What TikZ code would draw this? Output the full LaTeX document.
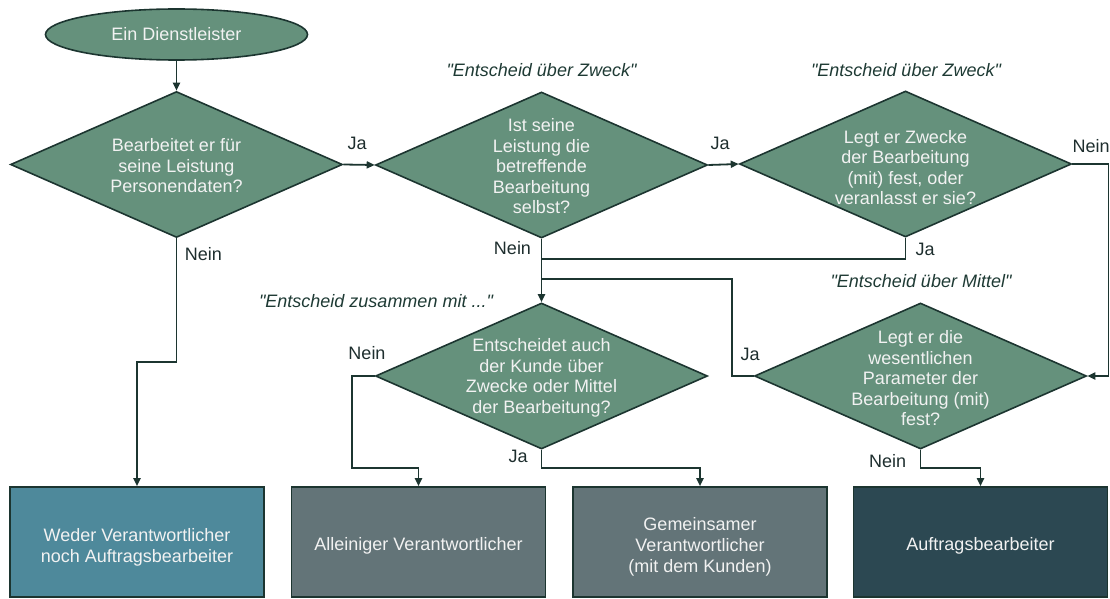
\documentclass[tikz,border=0pt]{standalone}
\usepackage{fontspec}
\setmainfont{Liberation Sans}[Ligatures=TeXOff]
\usetikzlibrary{shapes.geometric,arrows.meta}
\definecolor{dfill}{RGB}{101,145,124}
\definecolor{edge}{RGB}{28,53,48}
\definecolor{bteal}{RGB}{78,137,155}
\definecolor{bgrey}{RGB}{99,116,120}
\definecolor{bdark}{RGB}{44,72,82}
\definecolor{lbltxt}{RGB}{30,46,46}
\definecolor{ittxt}{RGB}{30,58,52}
\definecolor{wtxt}{RGB}{242,242,242}
\tikzset{
  conn/.style={draw=edge, line width=1.8pt},
  arr/.style={conn, -{Triangle[length=8pt,width=7pt]}},
  dia/.style={diamond, draw=edge, line width=1.6pt, fill=dfill, minimum width=332pt, minimum height=146pt, inner sep=0pt},
  dtext/.style={text=wtxt, align=center, inner sep=0pt, font=\fontsize{18}{20.5}\selectfont},
  outbox/.style={rectangle, draw=edge, line width=1.6pt, minimum width=254pt, minimum height=110pt, inner sep=0pt},
  btext/.style={text=wtxt, align=center, inner sep=0pt, font=\fontsize{18}{21}\selectfont},
  lbl/.style={text=lbltxt, anchor=base, inner sep=0pt, font=\fontsize{18}{20}\selectfont},
  note/.style={text=ittxt, anchor=base, inner sep=0pt, font=\fontsize{18}{20}\selectfont\itshape}
}
\begin{document}
\begin{tikzpicture}[x=1pt,y=-1pt]
\useasboundingbox (0,0) rectangle (1110,599);
% start
\node[ellipse, draw=edge, line width=1.6pt, fill=dfill, minimum width=262pt, minimum height=51pt, inner sep=0pt, text=wtxt, font=\fontsize{18}{20}\selectfont] (start) at (176.5,34.5) {Ein Dienstleister};
% diamonds
\node[dia] (d1) at (176.5,164.5) {};
\node[dtext] (t1) at (176.5,166) {Bearbeitet er für\\seine Leistung\\Personendaten?};
\node[dia] (d2) at (541.5,165) {};
\node[dtext] (t2) at (541.5,166.5) {Ist seine\\Leistung die\\betreffende\\Bearbeitung\\selbst?};
\node[dia] (d3) at (905.5,164) {};
\node[dtext] (t3) at (905.5,167.5) {Legt er Zwecke\\der Bearbeitung\\(mit) fest, oder\\veranlasst er sie?};
\node[dia] (d4) at (541.5,376) {};
\node[dtext] (t4) at (541.5,378) {Entscheidet auch\\der Kunde über\\Zwecke oder Mittel\\der Bearbeitung?};
\node[dia] (d5) at (920.5,376) {};
\node[dtext] (t5) at (920.5,378.5) {Legt er die\\wesentlichen\\Parameter der\\Bearbeitung (mit)\\fest?};
% result boxes
\node[outbox, fill=bteal] (b1) at (137,542) {};
\node[btext] (bt1) at (137,547) {Weder Verantwortlicher\\noch Auftragsbearbeiter};
\node[outbox, fill=bgrey] (b2) at (418.5,542) {};
\node[btext] (bt2) at (418.5,546) {Alleiniger Verantwortlicher};
\node[outbox, fill=bgrey] (b3) at (700,542) {};
\node[btext] (bt3) at (700,546.5) {Gemeinsamer\\Verantwortlicher\\(mit dem Kunden)};
\node[outbox, fill=bdark] (b4) at (980.5,542) {};
\node[btext] (bt4) at (980.5,546) {Auftragsbearbeiter};
% notes
\node[note] (n2) at (541.5,76.5) {"Entscheid über Zweck"};
\node[note] (n3) at (906,76.5) {"Entscheid über Zweck"};
\node[note] (n4) at (376,307) {"Entscheid zusammen mit ..."};
\node[note] (n5) at (921,287) {"Entscheid über Mittel"};
% junctions
\coordinate (j1) at (541.5,259);
\coordinate (j2) at (541.5,279);
% connectors
\draw[arr] (start.south) -- (d1.north);
\draw[arr] (d1.east) -- (d2.west);
\draw[arr] (d2.east) -- (d3.west);
\draw[arr] (d1.south) -- (176.5,362) -| (b1.north);
\draw[arr] (d2.south) -- (d4.north);
\draw[conn] (d3.south) |- (j1);
\draw[conn] (d5.west) -- (732,376) |- (j2);
\draw[arr] (d3.east) -- (1108.5,164) |- (d5.east);
\draw[arr] (d4.west) -- (352,376) -- (352,468) -| (b2.north);
\draw[arr] (d4.south) -- (541.5,468) -| (b3.north);
\draw[arr] (d5.south) -- (920.5,468) -| (b4.north);
% labels
\node[lbl] (l1) at (357,149) {Ja};
\node[lbl] (l2) at (720,149) {Ja};
\node[lbl] (l3) at (203.5,260) {Nein};
\node[lbl] (l4) at (512.5,254) {Nein};
\node[lbl] (l5) at (1091,152) {Nein};
\node[lbl] (l6) at (925,255) {Ja};
\node[lbl] (l7) at (367,359) {Nein};
\node[lbl] (l8) at (518,462) {Ja};
\node[lbl] (l9) at (750,360) {Ja};
\node[lbl] (l10) at (887.5,467) {Nein};
\end{tikzpicture}
\end{document}
